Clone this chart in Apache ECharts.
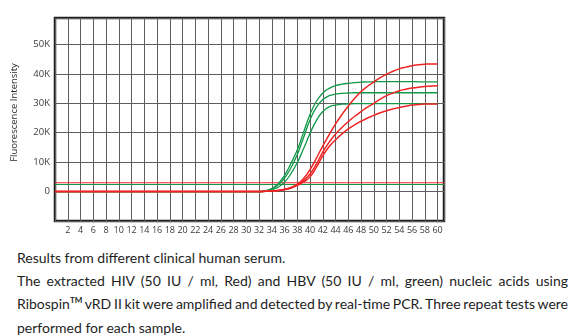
<!DOCTYPE html>
<html>
<head>
<meta charset="utf-8">
<script src="https://cdn.jsdelivr.net/npm/echarts@6/dist/echarts.min.js"></script>
<style>
  html, body { margin: 0; padding: 0; background: #fff; }
  #chart { position: absolute; left: 0; top: 0; width: 585px; height: 240px; }
  .cap { position: absolute; left: 17px; width: 551px; font-family: Lato, "Open Sans", sans-serif; font-size: 14px; color: #1e1e1e; white-space: nowrap; line-height: 16px; }
  .just { text-align: justify; text-align-last: justify; white-space: normal; word-spacing: -2px; }
  sup { font-size: 8px; vertical-align: 0; position: relative; top: -6px; font-weight: bold; }
</style>
</head>
<body>
<div id="chart"></div>
<div class="cap" style="top:250px">Results from different clinical human serum.</div>
<div class="cap just" style="top:273px">The extracted HIV (50 IU / ml, Red) and HBV (50 IU / ml, green) nucleic acids using</div>
<div class="cap just" style="top:296px">Ribospin<sup>TM</sup> vRD II kit were amplified and detected by real-time PCR. Three repeat tests were</div>
<div class="cap" style="top:320px">performed for each sample.</div>
<script>
// cycles 0..60
const cycles = [0,1,2,3,4,5,6,7,8,9,10,11,12,13,14,15,16,17,18,19,20,21,22,23,24,25,26,27,28,29,30,
  31,32,33,34,35,36,37,38,39,40,41,42,43,44,45,46,47,48,49,50,51,52,53,54,55,56,57,58,59,60];
// fluorescence in thousands (K)
const hbvGreenA = [0,0,0,0,0,0,0,0,0,0,0,0,0,0,0,0,0,0,0,0,0,0,0,0,0,0,0,0,0,0,0,0,0,
  0.3,1.0,2.7,5.5,9.6,14.2,20.3,26.3,30.7,33.5,35.1,36.0,36.5,36.8,37.0,37.2,37.3,37.3,37.4,37.4,37.4,37.4,37.4,37.4,37.3,37.3,37.3,37.3];
const hbvGreenB = [0,0,0,0,0,0,0,0,0,0,0,0,0,0,0,0,0,0,0,0,0,0,0,0,0,0,0,0,0,0,0,0,0,
  0.3,0.9,2.3,4.6,8.1,12.6,18.5,24.4,28.7,31.3,32.6,33.1,33.4,33.5,33.6,33.6,33.6,33.6,33.6,33.6,33.6,33.6,33.6,33.6,33.6,33.6,33.6,33.6];
const hbvGreenC = [0,0,0,0,0,0,0,0,0,0,0,0,0,0,0,0,0,0,0,0,0,0,0,0,0,0,0,0,0,0,0,0,0,
  0.2,0.6,1.5,3.2,6.1,9.9,14.7,19.8,24.2,27.2,28.8,29.4,29.7,29.8,29.9,29.9,29.9,29.9,29.9,29.9,29.9,29.9,29.9,29.9,29.9,29.9,29.9,29.9];
const hivRedA = [0,0,0,0,0,0,0,0,0,0,0,0,0,0,0,0,0,0,0,0,0,0,0,0,0,0,0,0,0,0,0,0,0,
  0.1,0.2,0.4,0.8,1.4,2.5,4.5,7.5,11.4,15.5,19.4,23.0,26.2,29.1,31.7,34.0,35.8,37.3,38.7,39.9,40.9,41.7,42.3,42.8,43.1,43.3,43.4,43.4];
const hivRedB = [0,0,0,0,0,0,0,0,0,0,0,0,0,0,0,0,0,0,0,0,0,0,0,0,0,0,0,0,0,0,0,0,0,
  0.1,0.2,0.4,0.7,1.3,2.3,3.8,6.0,9.4,13.5,16.8,19.6,21.8,23.8,25.6,27.2,28.7,30.0,31.4,32.6,33.5,34.3,34.8,35.2,35.5,35.7,35.9,36.0];
const hivRedC = [0,0,0,0,0,0,0,0,0,0,0,0,0,0,0,0,0,0,0,0,0,0,0,0,0,0,0,0,0,0,0,0,0,
  0.1,0.2,0.35,0.7,1.2,2.1,3.3,5.0,8.3,12.2,15.3,17.6,19.6,21.3,22.7,23.9,25.0,25.9,26.8,27.5,28.1,28.6,29.0,29.4,29.6,29.8,29.8,29.8];
const thresholdRed = 3.0;
const thresholdGreen = 2.4;
const xRange = [0, 61];
const yRange = [-10, 59];

const RED = '#ee2525';
const GREEN = '#109848';

function pairs(vals) { return cycles.map((c, i) => [c, vals[i]]); }
function curve(vals, color, w) {
  return { type: 'line', data: pairs(vals), smooth: true, symbol: 'none',
    lineStyle: { color: color, width: w }, silent: true, z: 5 };
}
function thresh(v, color) {
  return { type: 'line', data: [[xRange[0], v], [xRange[1], v]], symbol: 'none',
    lineStyle: { color: color, width: 1.2 }, silent: true, z: 4 };
}

const chart = echarts.init(document.getElementById('chart'), null, { renderer: 'canvas' });
chart.setOption({
  animation: false,
  grid: { left: 55, top: 18, width: 389, height: 203, show: true, borderColor: '#1e1e1e', borderWidth: 2.5, backgroundColor: 'transparent' },
  xAxis: {
    type: 'value', min: xRange[0], max: xRange[1], interval: 2,
    axisLine: { show: false }, axisTick: { show: false },
    splitLine: { show: true, lineStyle: { color: '#5e5e5e', width: 1 } },
    axisLabel: { margin: 5, fontSize: 9, color: '#3a3a3a', fontFamily: '"Open Sans", sans-serif',
      formatter: v => (v > 0 && v <= 60) ? String(v) : '' }
  },
  yAxis: {
    type: 'value', min: yRange[0], max: yRange[1], interval: 10,
    name: 'Fluorescence Intensity', nameLocation: 'middle', nameGap: 36,
    nameTextStyle: { fontSize: 9.5, color: '#2a2a2a', fontFamily: '"Open Sans", sans-serif', padding: [0, 0, 0, 14] },
    axisLine: { show: false }, axisTick: { show: false },
    splitLine: { show: true, lineStyle: { color: '#5e5e5e', width: 1 } },
    axisLabel: { margin: 5, fontSize: 9.5, color: '#3a3a3a', fontFamily: '"Open Sans", sans-serif',
      formatter: v => (v === 0 ? '0' : (v > 0 && v % 10 === 0 ? v + 'K' : '')) }
  },
  series: [
    thresh(thresholdGreen, GREEN),
    thresh(thresholdRed, RED),
    curve(hbvGreenA, GREEN, 1.3),
    curve(hbvGreenB, GREEN, 1.3),
    curve(hbvGreenC, GREEN, 1.3),
    curve(hivRedA, RED, 1.5),
    curve(hivRedB, RED, 1.5),
    curve(hivRedC, RED, 1.5)
  ]
});
</script>
</body>
</html>
